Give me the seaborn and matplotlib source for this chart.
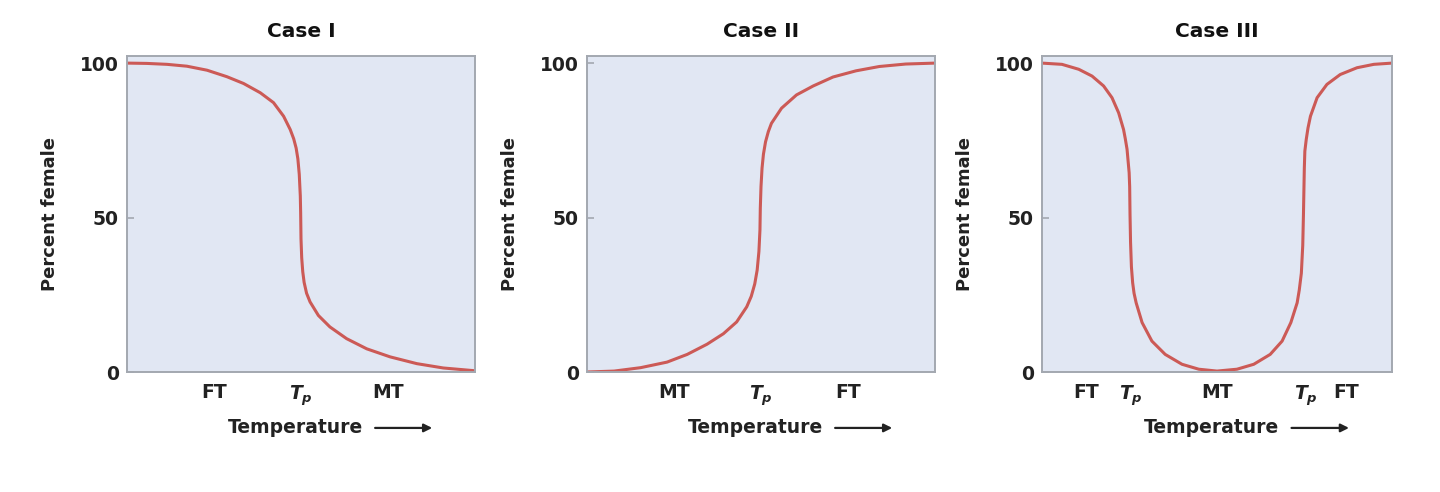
import matplotlib
matplotlib.use("Agg")
import matplotlib.pyplot as plt
import seaborn as sns
import pandas as pd

# Values (x is relative temperature, 0..1)
case1_x = [0.0, 0.057, 0.115, 0.172, 0.23, 0.287, 0.335, 0.383, 0.421, 0.45,
           0.469, 0.479, 0.486, 0.491, 0.495, 0.498, 0.499, 0.5, 0.502, 0.505,
           0.509, 0.516, 0.526, 0.55, 0.583, 0.631, 0.689, 0.756, 0.833, 0.909, 1.0]
case1_y = [100, 99.9, 99.6, 99.0, 97.7, 95.6, 93.4, 90.4, 87.2, 82.8,
           78.5, 75.5, 72.5, 69.0, 64.0, 57.0, 51.6, 43.1, 37.0, 32.5,
           29.0, 25.5, 22.7, 18.3, 14.6, 10.8, 7.5, 4.9, 2.7, 1.3, 0.4]

case2_x = [0.0, 0.078, 0.154, 0.23, 0.288, 0.345, 0.392, 0.43, 0.459, 0.472,
           0.482, 0.489, 0.494, 0.497, 0.498, 0.5, 0.503, 0.507, 0.513, 0.521,
           0.53, 0.559, 0.602, 0.65, 0.707, 0.773, 0.84, 0.916, 1.0]
case2_y = [0.0, 0.3, 1.4, 3.2, 5.7, 9.0, 12.4, 16.2, 21.1, 24.5,
           28.5, 33.0, 39.0, 46.0, 53.0, 60.0, 66.0, 70.5, 74.5, 77.8,
           80.5, 85.4, 89.7, 92.6, 95.5, 97.5, 98.9, 99.7, 100]

case3_x = [0.0, 0.057, 0.105, 0.143, 0.176, 0.2, 0.219, 0.233, 0.238, 0.243,
           0.246, 0.249, 0.2505, 0.2515, 0.253, 0.2555, 0.259, 0.263, 0.269, 0.286,
           0.314, 0.352, 0.4, 0.448, 0.5, 0.557, 0.605, 0.652, 0.686, 0.711,
           0.729, 0.735, 0.741, 0.745, 0.747, 0.7485, 0.7495, 0.751, 0.755, 0.76,
           0.767, 0.786, 0.814, 0.852, 0.9, 0.948, 1.0]
case3_y = [100, 99.6, 98.0, 95.8, 92.6, 88.8, 83.9, 78.5, 75.5, 72.1,
           68.3, 64.5, 60.0, 51.0, 42.0, 34.0, 28.9, 25.5, 22.4, 16.0,
           10.0, 5.7, 2.5, 0.9, 0.3, 0.9, 2.5, 5.7, 10.0, 16.0,
           22.4, 26.5, 32.0, 41.0, 51.0, 60.0, 66.0, 71.5, 75.3, 79.0,
           82.8, 88.8, 93.1, 96.3, 98.5, 99.6, 100]

titles = ["Case I", "Case II", "Case III"]
tick_pos = [[0.25, 0.5, 0.75], [0.25, 0.5, 0.75], [0.125, 0.255, 0.5, 0.755, 0.87]]
tick_lab = [["FT", "$T_p$", "MT"], ["MT", "$T_p$", "FT"],
            ["FT", "$T_p$", "MT", "$T_p$", "FT"]]
tp_pos = [[0.5], [0.5], [0.255, 0.755]]

sns.set_theme(style="white")
plt.rcParams["font.family"] = ["DejaVu Sans"]
plt.rcParams["font.weight"] = "bold"
plt.rcParams["mathtext.fontset"] = "custom"
plt.rcParams["mathtext.it"] = "DejaVu Sans:italic:bold"
plt.rcParams["mathtext.rm"] = "DejaVu Sans:bold"

bg = "#E1E7F3"
spine_col = "#A3A8B0"
line_col = "#CC5A56"
text_col = "#222222"

fig = plt.figure(figsize=(14.4, 4.92), dpi=100)
lefts = [127, 587, 1042]
widths = [348, 348, 350]

series = [(case1_x, case1_y), (case2_x, case2_y), (case3_x, case3_y)]

for i, (xs, ys) in enumerate(series):
    ax = fig.add_axes([lefts[i] / 1440, 1 - 372 / 492, widths[i] / 1440, 316 / 492])
    ax.set_facecolor(bg)
    df = pd.DataFrame({"x": xs, "y": ys})
    sns.lineplot(data=df, x="x", y="y", ax=ax, color=line_col, linewidth=2.2,
                 sort=False)
    ax.set_xlim(0, 1)
    ax.set_ylim(0, 102.3)
    for s in ax.spines.values():
        s.set_color(spine_col)
        s.set_linewidth(1.4)

    ax.set_yticks([0, 50, 100])
    ax.set_yticklabels(["0", "50", "100"], fontsize=13.5, fontweight="bold")
    ax.tick_params(axis="y", left=True, direction="in", length=5, color=spine_col,
                   width=1.2, pad=6, labelcolor=text_col)

    ax.set_xticks(tick_pos[i])
    ax.set_xticklabels(tick_lab[i], fontsize=13.5, fontweight="bold")
    ax.tick_params(axis="x", which="major", bottom=True, length=0, pad=8,
                   labelcolor=text_col)
    ax.set_xticks(tp_pos[i], minor=True)
    ax.tick_params(axis="x", which="minor", bottom=True, direction="in", length=6,
                   color=spine_col, width=1.2)

    ax.set_title(titles[i], fontsize=14.5, fontweight="bold", pad=14, color="#111111")
    ax.set_ylabel("Percent female", fontsize=13, fontweight="bold", color=text_col,
                  va="center")
    ax.yaxis.set_label_coords(-0.221, 0.5)
    ax.set_xlabel("Temperature", fontsize=13.5, fontweight="bold", color=text_col,
                  va="center")
    ax.xaxis.set_label_coords(0.483, -0.177)
    ax.annotate("", xy=(0.885, -0.177), xytext=(0.705, -0.177),
                xycoords="axes fraction",
                arrowprops=dict(arrowstyle="-|>", color=text_col, lw=1.6,
                                mutation_scale=12))

fig.savefig("out.png", dpi=100)
